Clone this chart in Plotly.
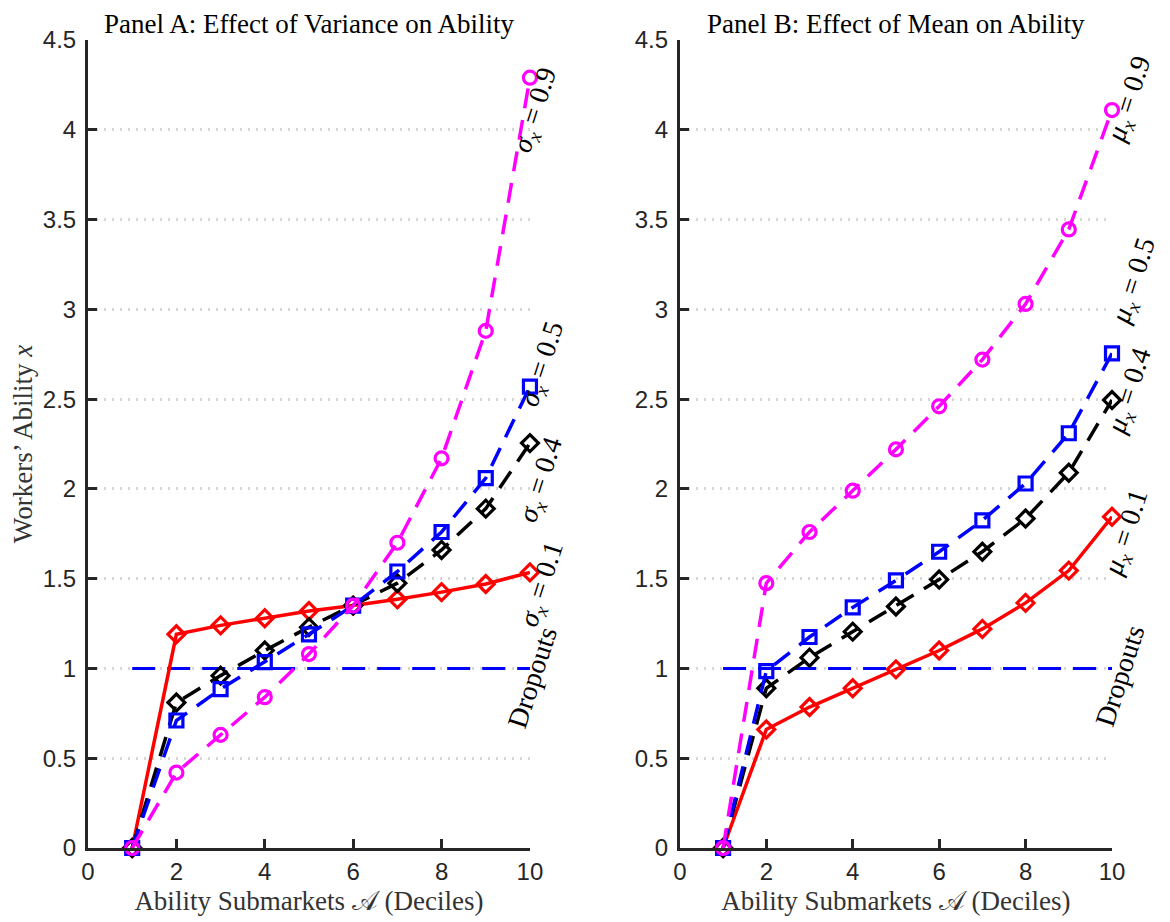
import plotly.graph_objects as go

deciles = [1, 2, 3, 4, 5, 6, 7, 8, 9, 10]

# Panel A: effect of variance
a_sig09 = [0, 0.42, 0.63, 0.84, 1.08, 1.35, 1.70, 2.17, 2.88, 4.29]
a_sig05 = [0, 0.71, 0.885, 1.035, 1.19, 1.35, 1.54, 1.76, 2.06, 2.57]
a_sig04 = [0, 0.81, 0.96, 1.10, 1.23, 1.35, 1.475, 1.66, 1.89, 2.255]
a_sig01 = [0, 1.19, 1.24, 1.28, 1.32, 1.35, 1.385, 1.425, 1.47, 1.535]

# Panel B: effect of mean
b_mu09 = [0, 1.475, 1.76, 1.99, 2.22, 2.46, 2.72, 3.03, 3.445, 4.11]
b_mu05 = [0, 0.985, 1.175, 1.34, 1.49, 1.65, 1.825, 2.03, 2.31, 2.755]
b_mu04 = [0, 0.89, 1.06, 1.205, 1.345, 1.495, 1.65, 1.835, 2.09, 2.495]
b_mu01 = [0, 0.66, 0.785, 0.89, 0.995, 1.10, 1.22, 1.365, 1.545, 1.845]

dropout_level = 1.0

panel_titles = ["Panel A: Effect of Variance on Ability", "Panel B: Effect of Mean on Ability"]
labels_a = ["<i>σ<sub>x</sub></i> = 0.9", "<i>σ<sub>x</sub></i> = 0.5", "<i>σ<sub>x</sub></i> = 0.4", "<i>σ<sub>x</sub></i> = 0.1", "Dropouts"]
labels_b = ["<i>μ<sub>x</sub></i> = 0.9", "<i>μ<sub>x</sub></i> = 0.5", "<i>μ<sub>x</sub></i> = 0.4", "<i>μ<sub>x</sub></i> = 0.1", "Dropouts"]

SERIF = "Liberation Serif, DejaVu Serif, serif"
SANS = "Liberation Sans, Arial, sans-serif"
AXC = "#262626"

fig = go.Figure()

styles = [
    ("magenta", "20px,12px", "circle-open"),
    ("blue", "20px,12px", "square-open"),
    ("black", "20px,12px", "diamond-open"),
    ("red", "solid", "diamond-open"),
]

def add_panel(series, xa, ya):
    fig.add_trace(go.Scatter(
        x=[deciles[0], deciles[-1]], y=[dropout_level, dropout_level], mode="lines",
        line=dict(color="blue", width=3, dash="23px,12px"),
        xaxis=xa, yaxis=ya, showlegend=False, hoverinfo="skip"))
    for ys, (col, dash, sym) in zip(series[::-1], styles[::-1]):
        fig.add_trace(go.Scatter(
            x=deciles, y=ys, mode="lines+markers",
            line=dict(color=col, width=3.5, dash=dash),
            marker=dict(symbol=sym, size=13, color=col, line=dict(color=col, width=3.2)),
            xaxis=xa, yaxis=ya, showlegend=False, cliponaxis=False))

add_panel([a_sig09, a_sig05, a_sig04, a_sig01], "x", "y")
add_panel([b_mu09, b_mu05, b_mu04, b_mu01], "x2", "y2")

xcommon = dict(range=[0, 10], tickvals=[0, 2, 4, 6, 8, 10], showline=True, linecolor=AXC,
               linewidth=3, ticks="inside", ticklen=9, tickwidth=3, tickcolor=AXC,
               showgrid=False, zeroline=False, automargin=False,
               tickfont=dict(family=SANS, size=24, color=AXC),
               title=dict(text="Ability Submarkets 𝒜 (Deciles)",
                          font=dict(family=SERIF, size=27, color="#333333"), standoff=8))
ycommon = dict(range=[0, 4.5], tickvals=[0, 0.5, 1, 1.5, 2, 2.5, 3, 3.5, 4, 4.5],
               ticktext=["0", "0.5", "1", "1.5", "2", "2.5", "3", "3.5", "4", "4.5"],
               showline=True, linecolor=AXC, linewidth=3, ticks="inside", ticklen=9,
               tickwidth=3, tickcolor=AXC, showgrid=True, gridcolor="#d6d6d6",
               gridwidth=2.5, griddash="2px,6px", zeroline=False, automargin=False,
               ticklabelstandoff=4,
               tickfont=dict(family=SANS, size=24, color=AXC))

# page body adds an 8px offset, so margins are reduced accordingly
fig.update_layout(
    width=1170, height=922,
    margin=dict(l=80, r=66, t=32, b=82),
    plot_bgcolor="white", paper_bgcolor="white",
    xaxis=dict(domain=[0, 0.4316], anchor="y", **xcommon),
    xaxis2=dict(domain=[0.578, 1], anchor="y2", **xcommon),
    yaxis=dict(domain=[0, 1], anchor="x",
               title=dict(text="Workers’ Ability <i>x</i>",
                          font=dict(family=SERIF, size=27, color="#333333"), standoff=10),
               **ycommon),
    yaxis2=dict(domain=[0, 1], anchor="x2", **ycommon),
)

# panel titles
for t, xr in zip(panel_titles, ["x domain", "x2 domain"]):
    fig.add_annotation(text=t, xref=xr, yref="paper", x=0.5, y=1.0, yshift=-1,
                       xanchor="center", yanchor="bottom", showarrow=False,
                       font=dict(family=SERIF, size=27, color="black"))

# rotated curve labels (positions in axis-domain fractions)
pos_a = [(1.013, 0.913), (1.03, 0.598), (1.026, 0.455), (1.029, 0.326), (1.005, 0.211)]
pos_b = [(1.042, 0.926), (1.053, 0.702), (1.042, 0.565), (1.036, 0.39), (1.019, 0.213)]
for lbls, poss, xr, yr in [(labels_a, pos_a, "x domain", "y domain"), (labels_b, pos_b, "x2 domain", "y2 domain")]:
    for lbl, (px, py) in zip(lbls, poss):
        fig.add_annotation(text=lbl, x=px, y=py, xref=xr, yref=yr, showarrow=False,
                           xanchor="center", yanchor="middle",
                           textangle=-72, font=dict(family=SERIF, size=28, color="black"))

fig.write_html("out.html")
